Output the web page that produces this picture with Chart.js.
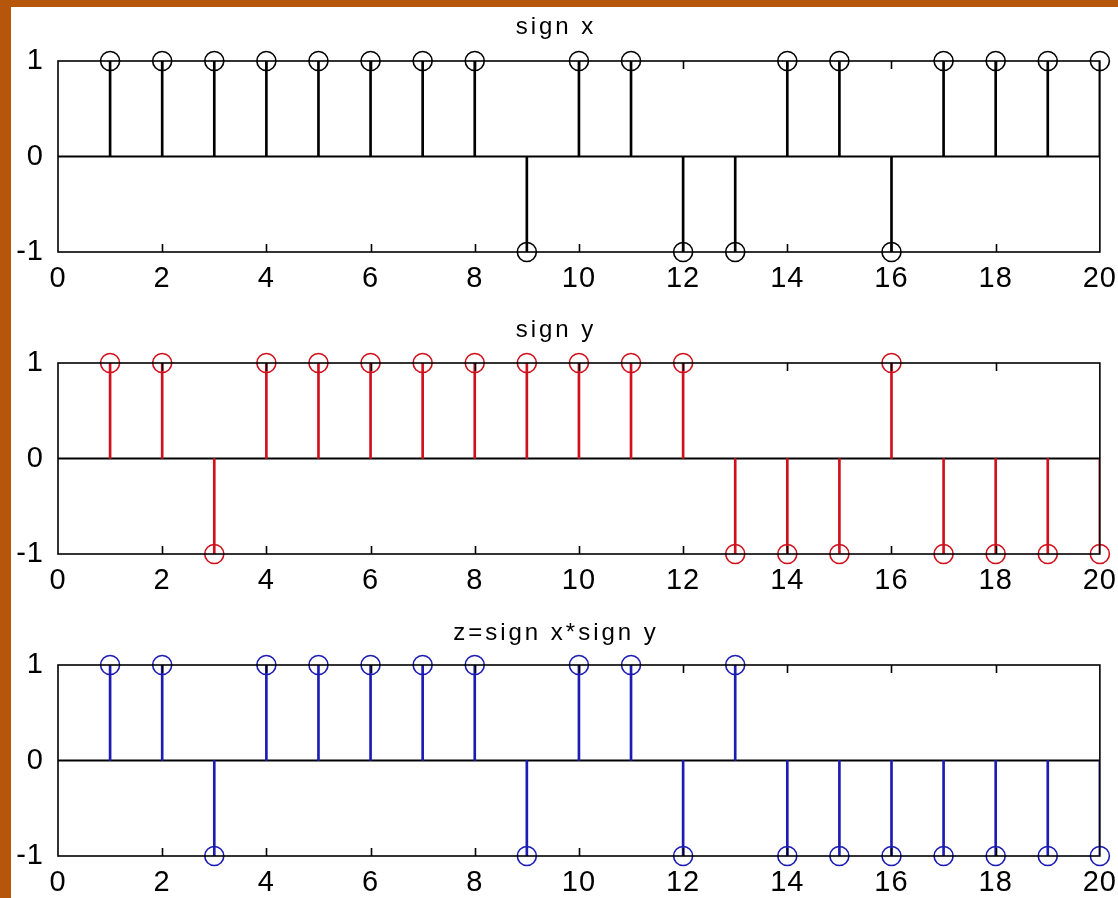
<!DOCTYPE html>
<html>
<head>
<meta charset="utf-8">
<script src="https://cdn.jsdelivr.net/npm/chart.js@4"></script>
<style>
  html, body { margin: 0; padding: 0; width: 1118px; height: 898px; overflow: hidden; background: #b5560a; }
  #page { position: absolute; left: 11px; top: 7px; width: 1107px; height: 891px; background: #ffffff; overflow: hidden; }
  .box { position: absolute; left: 0; width: 1107px; height: 290px; }
</style>
</head>
<body>
<div id="page">
  <div class="box" style="top:0px"><canvas id="c1"></canvas></div>
  <div class="box" style="top:302px"><canvas id="c2"></canvas></div>
  <div class="box" style="top:604px"><canvas id="c3"></canvas></div>
</div>
<script>
// ---- data ----
const n = [1,2,3,4,5,6,7,8,9,10,11,12,13,14,15,16,17,18,19,20];
const signX = [1,1,1,1,1,1,1,1,-1,1,1,-1,-1,1,1,-1,1,1,1,1];
const signY = [1,1,-1,1,1,1,1,1,1,1,1,1,-1,-1,-1,1,-1,-1,-1,-1];
const signZ = [1,1,-1,1,1,1,1,1,-1,1,1,-1,1,-1,-1,-1,-1,-1,-1,-1];
const titles = ['sign x', 'sign y', 'z=sign x*sign y'];
const colors = ['#000000', '#d0101c', '#1c1cb4'];
const xTicks = [0,2,4,6,8,10,12,14,16,18,20];
const yTicks = [-1,0,1];

const FONT = "'Liberation Sans', Arial, sans-serif";

const framePlugin = {
  id: 'frame',
  beforeDraw(chart) { chart.ctx.letterSpacing = '3px'; },
  beforeDatasetsDraw(chart) { chart.ctx.letterSpacing = '1px'; },
  afterDatasetsDraw(chart) {
    const ctx = chart.ctx, a = chart.chartArea, xs = chart.scales.x;
    ctx.save();
    ctx.strokeStyle = '#000';
    ctx.lineWidth = 1.6;
    ctx.strokeRect(a.left, a.top, a.right - a.left, a.bottom - a.top);
    ctx.beginPath();
    xs.ticks.forEach(t => {
      if (t.value <= xs.min || t.value >= xs.max) return;
      const px = Math.round(xs.getPixelForValue(t.value)) + 0.5;
      ctx.moveTo(px, a.bottom); ctx.lineTo(px, a.bottom - 8);
      ctx.moveTo(px, a.top); ctx.lineTo(px, a.top + 8);
    });
    ctx.stroke();
    ctx.restore();
  }
};

function makeChart(id, vals, title, color, titleTop) {
  const pts = n.map((x, i) => ({x: x, y: vals[i]}));
  return new Chart(document.getElementById(id), {
    data: {
      datasets: [
        {
          type: 'scatter', data: pts, order: 0, clip: false,
          pointStyle: 'circle', pointRadius: 9.5, pointHoverRadius: 9.5,
          pointBorderColor: color, pointBackgroundColor: 'rgba(0,0,0,0)', pointBorderWidth: 1.6
        },
        {
          type: 'bar', data: pts, order: 1,
          backgroundColor: color, borderWidth: 0, barThickness: 2, grouped: false
        },
        {
          type: 'line', data: [{x: 0, y: 0}, {x: 20, y: 0}], order: 2,
          borderColor: '#000', borderWidth: 1.8, pointRadius: 0, fill: false
        }
      ]
    },
    options: {
      responsive: true, maintainAspectRatio: false, animation: false,
      events: [],
      layout: { padding: { left: 0, right: 17, top: 0, bottom: 0 } },
      plugins: {
        legend: { display: false },
        tooltip: { enabled: false },
        title: {
          display: true, text: title, color: '#000',
          font: { family: FONT, size: 24, weight: 'normal', lineHeight: 1.2 },
          padding: { top: titleTop, bottom: 54 - 28.8 - titleTop }
        }
      },
      scales: {
        x: {
          type: 'linear', min: 0, max: 20, offset: false,
          afterBuildTicks: s => { s.ticks = xTicks.map(v => ({value: v})); },
          afterFit: s => { s.height = 45; },
          grid: { display: false, offset: false }, border: { display: false },
          ticks: { z: 1, color: '#000', padding: 2, maxRotation: 0, autoSkip: false,
                   font: { family: FONT, size: 29 } }
        },
        y: {
          type: 'linear', min: -1, max: 1,
          afterBuildTicks: s => { s.ticks = yTicks.map(v => ({value: v})); },
          afterFit: s => { s.width = 47; },
          grid: { display: false }, border: { display: false },
          ticks: { z: 1, color: '#000', padding: 6, font: { family: FONT, size: 29 } }
        }
      }
    },
    plugins: [framePlugin]
  });
}

makeChart('c1', signX, titles[0], colors[0], 6);
makeChart('c2', signY, titles[1], colors[1], 7);
makeChart('c3', signZ, titles[2], colors[2], 8);
</script>
</body>
</html>
